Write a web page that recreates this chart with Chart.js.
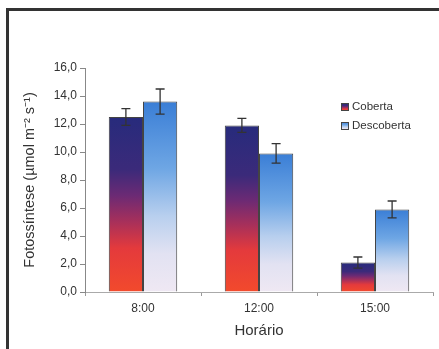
<!DOCTYPE html>
<html><head><meta charset="utf-8">
<script src="https://cdn.jsdelivr.net/npm/chart.js@4"></script>
<style>
html,body{margin:0;padding:0;background:#fff;}
#wrap{position:relative;width:439px;height:349px;}
#frame{position:absolute;left:6px;top:8px;width:440px;height:360px;border-left:3px solid #333;border-top:3px solid #333;}
canvas{position:absolute;left:0;top:0;}
</style></head>
<body>
<div id="wrap"><div id="frame"></div><canvas id="c" width="439" height="349"></canvas></div>
<script>
const categories = ["8:00", "12:00", "15:00"];
const seriesNames = ["Coberta", "Descoberta"];
const coberta = [12.5, 11.9, 2.1];
const cobertaErr = [0.6, 0.5, 0.4];
const descoberta = [13.6, 9.9, 5.9];
const descobertaErr = [0.9, 0.7, 0.6];
const yTicks = [0, 2, 4, 6, 8, 10, 12, 14, 16];

const gradStops = [
  [[0, '#272b7c'], [0.3, '#3b2a7a'], [0.45, '#6c2a74'], [0.6, '#a8305a'], [0.75, '#e43a3c'], [1, '#f24a2c']],
  [[0, '#3a7ed6'], [0.35, '#6ea6e4'], [0.6, '#b8cfee'], [0.8, '#e2e2f2'], [1, '#efe8f3']]
];
function barGradient(ctx, di) {
  const chart = ctx.chart;
  if (!chart.chartArea || !chart.scales.y) return gradStops[di][0][1];
  const v = ctx.raw;
  const y = chart.scales.y;
  const top = y.getPixelForValue(v), bot = y.getPixelForValue(0);
  const g = chart.ctx.createLinearGradient(0, top, 0, bot);
  gradStops[di].forEach(s => g.addColorStop(s[0], s[1]));
  return g;
}

const errorBars = {
  id: 'errorBars',
  afterDatasetsDraw(chart) {
    const c = chart.ctx;
    const errs = [cobertaErr, descobertaErr];
    const y = chart.scales.y;
    c.save();
    c.strokeStyle = '#333';
    c.lineWidth = 1.3;
    chart.data.datasets.forEach((ds, di) => {
      const meta = chart.getDatasetMeta(di);
      meta.data.forEach((bar, i) => {
        const v = ds.data[i], e = errs[di][i];
        const x = bar.x;
        const yt = y.getPixelForValue(v + e), yb = y.getPixelForValue(v - e);
        c.beginPath();
        c.moveTo(x, yt); c.lineTo(x, yb);
        c.moveTo(x - 4.5, yt); c.lineTo(x + 4.5, yt);
        c.moveTo(x - 4.5, yb); c.lineTo(x + 4.5, yb);
        c.stroke();
      });
    });
    c.restore();
  }
};

const legendBox = {
  id: 'legendBox',
  afterDraw(chart) {
    const c = chart.ctx;
    const ca = chart.chartArea;
    const x0 = ca.left + 256, y0 = 107;
    c.save();
    c.font = '11.5px "Liberation Sans", Arial, sans-serif';
    c.textBaseline = 'middle';
    chart.data.datasets.forEach((ds, di) => {
      const yy = y0 + di * 19;
      const g = c.createLinearGradient(0, yy - 4, 0, yy + 4);
      gradStops[di].forEach(s => g.addColorStop(s[0], s[1]));
      c.fillStyle = g;
      c.fillRect(x0, yy - 4, 8, 8);
      c.strokeStyle = '#444'; c.lineWidth = 1;
      c.strokeRect(x0 + 0.5, yy - 3.5, 7, 7);
      c.fillStyle = '#333';
      c.fillText(ds.label, x0 + 11, yy);
    });
    c.restore();
  }
};

new Chart(document.getElementById('c'), {
  type: 'bar',
  data: {
    labels: categories,
    datasets: [
      { label: seriesNames[0], data: coberta, backgroundColor: ctx => barGradient(ctx, 0), borderColor: '#444', borderWidth: 1, categoryPercentage: 0.59, barPercentage: 1 },
      { label: seriesNames[1], data: descoberta, backgroundColor: ctx => barGradient(ctx, 1), borderColor: '#444', borderWidth: 1, categoryPercentage: 0.59, barPercentage: 1 }
    ]
  },
  options: {
    responsive: false,
    animation: false,
    events: [],
    layout: { padding: { top: 68, right: 6, left: 0, bottom: 0 } },
    plugins: { legend: { display: false }, tooltip: { enabled: false } },
    scales: {
      x: {
        grid: { display: true, drawOnChartArea: false, offset: true, tickLength: 4, color: '#999' },
        border: { color: '#aaa', width: 1 },
        ticks: { color: '#333', font: { size: 12, family: '"Liberation Sans", Arial, sans-serif' }, padding: 5 },
        title: { display: true, text: 'Horário', color: '#333', font: { size: 15, family: '"Liberation Sans", Arial, sans-serif' }, padding: { top: 0, bottom: 9 } },
        afterFit(s) { s.height = 57; }
      },
      y: {
        min: 0, max: 16,
        afterBuildTicks(s) { s.ticks = yTicks.map(v => ({ value: v })); },
        grid: { display: true, drawOnChartArea: false, tickLength: 5, color: '#888' },
        border: { color: '#888', width: 1 },
        ticks: { color: '#333', font: { size: 12, family: '"Liberation Sans", Arial, sans-serif' }, padding: 3,
          callback: v => v.toFixed(1).replace('.', ',') },
        title: { display: true, text: 'Fotossíntese (µmol m⁻² s⁻¹)', color: '#333', font: { size: 14.5, family: '"Liberation Sans", Arial, sans-serif' }, padding: { top: 21, bottom: 0 } },
        afterFit(s) { s.width = 85; }
      }
    }
  },
  plugins: [errorBars, legendBox]
});
</script>
</body></html>
